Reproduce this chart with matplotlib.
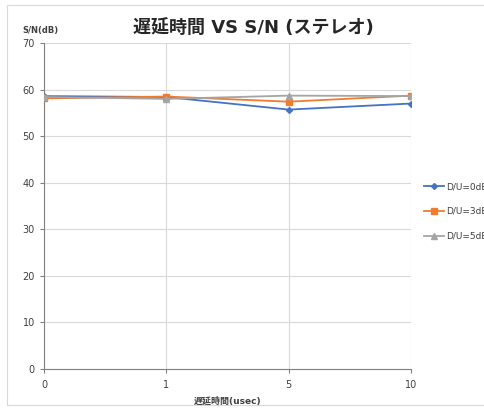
import matplotlib.pyplot as plt
from matplotlib.patches import Rectangle

plt.rcParams["font.family"] = ["DejaVu Sans", "Noto Sans CJK JP"]

CATEGORIES = ["0", "1", "5", "10"]
SERIES_NAMES = ["D/U=0dB", "D/U=3dB", "D/U=5dB"]
DU_0DB = [58.6, 58.4, 55.7, 57.0]
DU_3DB = [58.1, 58.5, 57.4, 58.7]
DU_5DB = [58.4, 58.0, 58.7, 58.6]
Y_TICKS = [0, 10, 20, 30, 40, 50, 60, 70]

COLORS = ["#4472C4", "#ED7D31", "#A5A5A5"]
MARKERS = ["D", "s", "^"]
MARKER_SIZES = [3, 5, 4.5]

fig = plt.figure(figsize=(4.85, 4.11), dpi=100)
fig.patches.append(Rectangle((7 / 485, 1 - 405 / 411), 1, 400 / 411,
                             transform=fig.transFigure, fill=False,
                             edgecolor="#D9D9D9", linewidth=0.8))

ax = fig.add_axes([44 / 485, 1 - 369 / 411, 367 / 485, 326 / 411])

x = list(range(len(CATEGORIES)))
for values, name, color, marker, ms in zip([DU_0DB, DU_3DB, DU_5DB], SERIES_NAMES,
                                            COLORS, MARKERS, MARKER_SIZES):
    ax.plot(x, values, color=color, marker=marker, markersize=ms, linewidth=1.3,
            label=name, zorder=3)

ax.set_xlim(0, len(CATEGORIES) - 1)
ax.set_ylim(0, 70)
ax.set_xticks(x)
ax.set_xticklabels(CATEGORIES)
ax.set_yticks(Y_TICKS)
ax.tick_params(labelsize=7, colors="#404040", length=3, color="#808080")
ax.tick_params(axis="x", pad=5)
ax.grid(True, color="#D9D9D9", linewidth=0.8)
for side in ["top", "right"]:
    ax.spines[side].set_visible(False)
for side in ["left", "bottom"]:
    ax.spines[side].set_color("#808080")

fig.text(0.5 * (133 + 373) / 485, 1 - 28 / 411, "遅延時間 VS S/N (ステレオ)",
         ha="center", va="center", fontsize=13, fontweight="bold", color="#262626")
fig.text(22 / 485, 1 - 30 / 411, "S/N(dB)", ha="left", va="center",
         fontsize=6, fontweight="bold", color="#404040")
fig.text((44 + 411) / 2 / 485, 1 - 401 / 411, "遅延時間(usec)", ha="center",
         va="center", fontsize=6.5, fontweight="bold", color="#404040")

fig.legend(loc="upper left", bbox_to_anchor=(416 / 485, 1 - 174 / 411),
           frameon=False, fontsize=6.5, labelspacing=1.75, handlelength=2.2,
           handletextpad=0.2, labelcolor="#404040")

fig.savefig("out.png", dpi=100)
